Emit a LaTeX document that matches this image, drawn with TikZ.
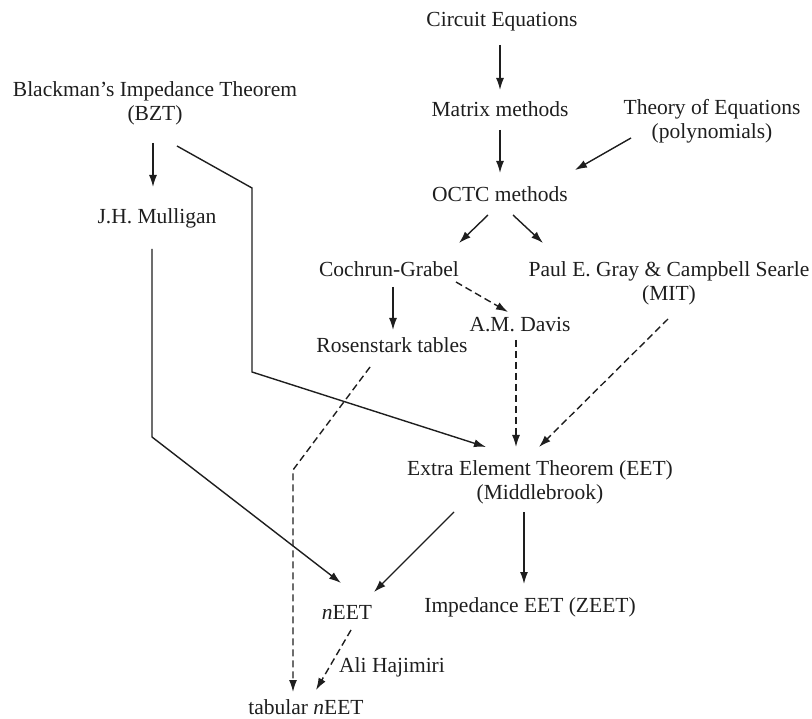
\documentclass[tikz,border=0pt]{standalone}
\usepackage{fontspec}
\setmainfont{Liberation Serif}
\usetikzlibrary{arrows.meta,calc}
\definecolor{ink}{HTML}{1E1E1E}
\tikzset{
  lbl/.style={anchor=base, inner sep=0pt, outer sep=0pt, align=center, text=ink,
    font=\fontsize{21.5}{24}\selectfont},
  arr/.style={draw=ink, line width=1.4pt, -{Latex[length=12pt,width=8pt]}},
  darr/.style={arr, dash pattern=on 7pt off 4pt},
  line/.style={draw=ink, line width=1.4pt}
}
\begin{document}
\begin{tikzpicture}[x=1pt,y=-1pt]
\useasboundingbox (0,0) rectangle (812,719);
% nodes (placed at centre x, baseline y of the last line)
\node[lbl] (bzt) at (155,121) {Blackman’s Impedance Theorem\\(BZT)};
\node[lbl] (jhm) at (157,224) {J.H. Mulligan};
\node[lbl] (ce) at (502,27) {Circuit Equations};
\node[lbl] (mm) at (500,117) {Matrix methods};
\node[lbl] (toe) at (712,139) {Theory of Equations\\(polynomials)};
\node[lbl] (octc) at (500,202) {OCTC methods};
\node[lbl] (cg) at (389,277) {Cochrun-Grabel};
\node[lbl] (pg) at (669,301) {Paul E. Gray \& Campbell Searle\\(MIT)};
\node[lbl] (amd) at (520,332) {A.M. Davis};
\node[lbl] (rt) at (392,353) {Rosenstark tables};
\node[lbl] (eet) at (540,499) {Extra Element Theorem (EET)\\(Middlebrook)};
\node[lbl] (neet) at (347,619) {\textit{n}EET};
\node[lbl] (zeet) at (530,612) {Impedance EET (ZEET)};
\node[lbl] (ali) at (392,672) {Ali Hajimiri};
\node[lbl] (tab) at (306,714) {tabular \textit{n}EET};
% connectors
\draw[arr] ($(ce.base)+(-2,18)$) -- ($(mm.base)+(0,-27)$);
\draw[arr] ($(mm.base)+(0,13)$) -- ($(octc.base)+(0,-29)$);
\draw[arr] ($(toe.base)+(-81,-1)$) -- ($(octc.base)+(75,-32)$);
\draw[arr] ($(octc.base)+(-12,13)$) -- ($(cg.base)+(70,-34)$);
\draw[arr] ($(octc.base)+(13,13)$) -- ($(pg.base)+(-126,-58)$);
\draw[arr] ($(bzt.base)+(-2,22)$) -- ($(jhm.base)+(-4,-37)$);
\draw[arr] ($(bzt.base)+(22,25)$) -- ++(75,42) -- ++(0,184) -- ($(eet.base)+(-54,-52)$);
\draw[arr] ($(jhm.base)+(-5,25)$) -- ++(0,188) -- ($(neet.base)+(-6,-36)$);
\draw[arr] ($(cg.base)+(4,10)$) -- ($(rt.base)+(1,-23)$);
\draw[darr] ($(cg.base)+(67,5)$) -- ($(amd.base)+(-12,-20)$);
\draw[darr] ($(amd.base)+(-4,8)$) -- ($(eet.base)+(-24,-52)$);
\draw[darr] ($(pg.base)+(-1,18)$) -- ($(eet.base)+(-1,-52)$);
\draw[darr] ($(rt.base)+(-22,14)$) -- ++(-77,103) -- ($(tab.base)+(-13,-22)$);
\draw[arr] ($(eet.base)+(-86,13)$) -- ($(neet.base)+(27,-27)$);
\draw[arr] ($(eet.base)+(-16,13)$) -- ($(zeet.base)+(-6,-28)$);
\draw[darr] ($(neet.base)+(4,11)$) -- ($(tab.base)+(10,-24)$);
\end{tikzpicture}
\end{document}
